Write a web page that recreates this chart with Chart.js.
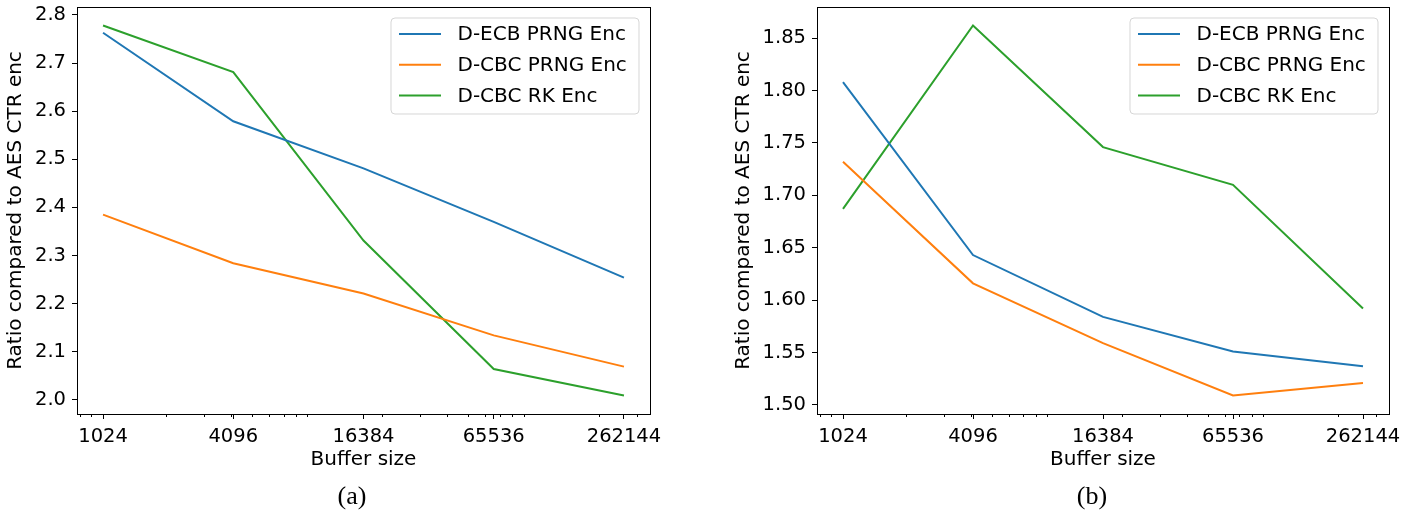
<!DOCTYPE html>
<html>
<head>
<meta charset="utf-8">
<script src="https://cdn.jsdelivr.net/npm/chart.js@4.4.1/dist/chart.umd.min.js"></script>
<style>
  html, body { margin: 0; padding: 0; background: #fff; }
  body { width: 1405px; height: 512px; position: relative; overflow: hidden; }
  canvas { position: absolute; top: 0; }
  .cap {
    position: absolute;
    font-family: "Liberation Serif", serif;
    font-size: 26px;
    color: #000;
    transform: translate(-50%, -50%);
    white-space: nowrap;
  }
</style>
</head>
<body>
<canvas id="chartA" width="700" height="512" style="left:0px"></canvas>
<canvas id="chartB" width="677" height="512" style="left:728px"></canvas>
<div class="cap" style="left:352px; top:496px">(a)</div>
<div class="cap" style="left:1092px; top:496px">(b)</div>
<script>
// Buffer sizes on the x axis (log scale) and their tick labels
const bufferSizes = [1024, 4096, 16384, 65536, 262144];
const xTickValues = [1024, 4096, 16384, 65536, 262144];

const seriesNames = ['D-ECB PRNG Enc', 'D-CBC PRNG Enc', 'D-CBC RK Enc'];
const seriesColors = ['#1f77b4', '#ff7f0e', '#2ca02c'];

// Panel (a): ratio compared to AES CTR enc
const ecbPrngA = [2.763, 2.579, 2.481, 2.370, 2.254];
const cbcPrngA = [2.385, 2.284, 2.221, 2.134, 2.069];
const cbcRkA   = [2.778, 2.681, 2.331, 2.064, 2.009];
const yTicksA  = [2.0, 2.1, 2.2, 2.3, 2.4, 2.5, 2.6, 2.7, 2.8];

// Panel (b): ratio compared to AES CTR enc
const ecbPrngB = [1.808, 1.643, 1.584, 1.551, 1.537];
const cbcPrngB = [1.732, 1.616, 1.559, 1.509, 1.521];
const cbcRkB   = [1.687, 1.862, 1.746, 1.710, 1.592];
const yTicksB  = [1.50, 1.55, 1.60, 1.65, 1.70, 1.75, 1.80, 1.85];

const FONT = 'DejaVu Sans';

// Axis limits padded by 5% of the data span (log space for x)
function paddedRange(values) {
  const lo = Math.min(...values), hi = Math.max(...values);
  const m = (hi - lo) * 0.05;
  return [lo - m, hi + m];
}
function paddedLogRange(values) {
  const lo = Math.log2(Math.min(...values)), hi = Math.log2(Math.max(...values));
  const m = (hi - lo) * 0.05;
  return [Math.pow(2, lo - m), Math.pow(2, hi + m)];
}

// Frame, minor log ticks and an in-axes legend box
const framePlugin = {
  id: 'frame',
  afterDraw(chart, args, opts) {
    const ctx = chart.ctx;
    const a = chart.chartArea;
    ctx.save();
    // minor ticks on the log x axis (2..9 x 10^k)
    const xs = chart.scales.x;
    ctx.strokeStyle = '#000';
    ctx.lineWidth = 1;
    for (let k = 2; k <= 6; k++) {
      for (let s = 2; s <= 9; s++) {
        const v = s * Math.pow(10, k);
        if (v < xs.min || v > xs.max) continue;
        const px = Math.round(xs.getPixelForValue(v)) + 0.5;
        ctx.beginPath();
        ctx.moveTo(px, a.bottom);
        ctx.lineTo(px, a.bottom + 3);
        ctx.stroke();
      }
    }
    // full box around the plotting area
    ctx.strokeRect(Math.round(a.left) + 0.5, Math.round(a.top) + 0.5,
                   Math.round(a.right - a.left), Math.round(a.bottom - a.top));

    // legend
    const L = opts.legend;
    const x0 = a.right - L.rightGap - L.width;
    const y0 = a.top + L.topGap;
    const r = 4;
    ctx.beginPath();
    ctx.moveTo(x0 + r, y0);
    ctx.arcTo(x0 + L.width, y0, x0 + L.width, y0 + L.height, r);
    ctx.arcTo(x0 + L.width, y0 + L.height, x0, y0 + L.height, r);
    ctx.arcTo(x0, y0 + L.height, x0, y0, r);
    ctx.arcTo(x0, y0, x0 + L.width, y0, r);
    ctx.closePath();
    ctx.fillStyle = 'rgba(255,255,255,0.8)';
    ctx.fill();
    ctx.strokeStyle = 'rgba(204,204,204,0.8)';
    ctx.stroke();
    ctx.font = L.fontSize + 'px "' + FONT + '"';
    ctx.textBaseline = 'middle';
    ctx.textAlign = 'left';
    chart.data.datasets.forEach((ds, i) => {
      const cy = y0 + L.firstRow + i * L.rowStep;
      ctx.strokeStyle = ds.borderColor;
      ctx.lineWidth = 2;
      ctx.beginPath();
      ctx.moveTo(x0 + 8, cy);
      ctx.lineTo(x0 + 50, cy);
      ctx.stroke();
      ctx.fillStyle = '#000';
      ctx.fillText(ds.label, x0 + 66.5, cy + 1);
    });
    ctx.restore();
  }
};

function makeChart(canvasId, series, yTicks, decimals, geom) {
  const [yMin, yMax] = paddedRange(series.flat());
  const [xMin, xMax] = paddedLogRange(bufferSizes);
  return new Chart(document.getElementById(canvasId), {
    type: 'line',
    data: {
      datasets: series.map((vals, i) => ({
        label: seriesNames[i],
        data: bufferSizes.map((b, j) => ({ x: b, y: vals[j] })),
        borderColor: seriesColors[i],
        backgroundColor: seriesColors[i],
        borderWidth: 2,
        pointRadius: 0,
        tension: 0,
        fill: false
      }))
    },
    options: {
      responsive: false,
      animation: false,
      devicePixelRatio: 1,
      layout: { padding: { left: 0, right: geom.padRight, top: 7, bottom: geom.padBottom } },
      plugins: {
        legend: { display: false },
        tooltip: { enabled: false },
        frame: { legend: geom.legend }
      },
      scales: {
        x: {
          type: 'logarithmic',
          min: xMin,
          max: xMax,
          bounds: 'data',
          afterBuildTicks: s => { s.ticks = xTickValues.map(v => ({ value: v })); },
          afterFit: s => { s.height = geom.xAxisHeight; s.paddingLeft = 0; s.paddingRight = 0; },
          grid: { drawOnChartArea: false, drawTicks: true, tickLength: 5, tickColor: '#000', tickWidth: 1 },
          border: { display: true, color: '#000', width: 1 },
          ticks: {
            autoSkip: false, maxRotation: 0, minRotation: 0, padding: 6,
            color: '#000', font: { family: FONT, size: 19.5 },
            callback: v => String(v)
          },
          title: {
            display: true, text: 'Buffer size', color: '#000',
            font: { family: FONT, size: 20 }, padding: { top: 4, bottom: 4 }
          }
        },
        y: {
          type: 'linear',
          min: yMin,
          max: yMax,
          bounds: 'data',
          afterBuildTicks: s => { s.ticks = yTicks.map(v => ({ value: v })); },
          afterFit: s => { s.width = geom.yAxisWidth; s.paddingTop = 0; s.paddingBottom = 0; },
          grid: { drawOnChartArea: false, drawTicks: true, tickLength: 5, tickColor: '#000', tickWidth: 1 },
          border: { display: true, color: '#000', width: 1 },
          ticks: {
            padding: 6, color: '#000', font: { family: FONT, size: 19.5 },
            callback: v => Number(v).toFixed(decimals)
          },
          title: {
            display: true, text: 'Ratio compared to AES CTR enc', color: '#000',
            font: { family: FONT, size: 20 }, padding: { top: 4, bottom: 4 }
          }
        }
      }
    },
    plugins: [framePlugin]
  });
}

const legendGeom = { width: 248, height: 96, rightGap: 11, topGap: 11, firstRow: 16, rowStep: 30.7, fontSize: 20 };

makeChart('chartA', [ecbPrngA, cbcPrngA, cbcRkA], yTicksA, 1, {
  padRight: 50, padBottom: 36, xAxisHeight: 62, yAxisWidth: 77, legend: legendGeom
});
makeChart('chartB', [ecbPrngB, cbcPrngB, cbcRkB], yTicksB, 2, {
  padRight: 16, padBottom: 36, xAxisHeight: 62, yAxisWidth: 89, legend: legendGeom
});
</script>
</body>
</html>
